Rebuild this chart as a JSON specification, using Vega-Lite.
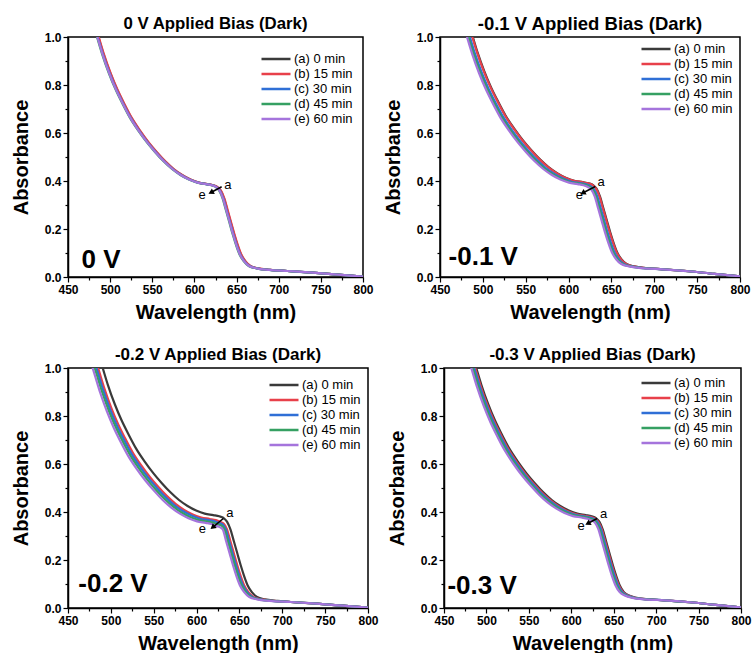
{
"$schema": "https://vega.github.io/schema/vega-lite/v6.json",
"padding": {"left": 10, "top": 13, "right": 2, "bottom": 0},
"datasets": {
"n": [{"s":"a","n":"(a) 0 min"},{"s":"b","n":"(b) 15 min"},{"s":"c","n":"(c) 30 min"},{"s":"d","n":"(d) 45 min"},{"s":"e","n":"(e) 60 min"}],
"t": [{"p":0,"w":639.8,"A":0.384,"t":"a"},{"p":0,"w":609,"A":0.342,"t":"e"},{"p":1,"w":637.9,"A":0.397,"t":"a"},{"p":1,"w":612.6,"A":0.343,"t":"e"},{"p":2,"w":638.7,"A":0.394,"t":"a"},{"p":2,"w":606.8,"A":0.329,"t":"e"},{"p":3,"w":638.2,"A":0.39,"t":"a"},{"p":3,"w":611.5,"A":0.341,"t":"e"}],
"b": [{"p":0,"w":466,"A":0.038,"t":"0 V"},{"p":1,"w":460,"A":0.049,"t":"-0.1 V"},{"p":2,"w":462,"A":0.066,"t":"-0.2 V"},{"p":3,"w":454,"A":0.06,"t":"-0.3 V"}],
"r": [{"p":0,"w":632.3,"A":0.376,"w2":619.6,"A2":0.352},{"p":1,"w":631.2,"A":0.377,"w2":616.5,"A2":0.35},{"p":2,"w":631.2,"A":0.373,"w2":618.8,"A2":0.336},{"p":3,"w":630.4,"A":0.373,"w2":619.4,"A2":0.352}],
"c": [
{"p":0,"s":"a","w":480,"A":1.07},{"p":0,"s":"a","w":486,"A":1.0},{"p":0,"s":"a","w":492,"A":0.93},{"p":0,"s":"a","w":500,"A":0.85},{"p":0,"s":"a","w":508,"A":0.782},{"p":0,"s":"a","w":516,"A":0.724},{"p":0,"s":"a","w":525,"A":0.664},{"p":0,"s":"a","w":535,"A":0.61},{"p":0,"s":"a","w":545,"A":0.562},{"p":0,"s":"a","w":555,"A":0.52},{"p":0,"s":"a","w":565,"A":0.482},{"p":0,"s":"a","w":575,"A":0.45},{"p":0,"s":"a","w":585,"A":0.425},{"p":0,"s":"a","w":595,"A":0.406},{"p":0,"s":"a","w":605,"A":0.393},{"p":0,"s":"a","w":615,"A":0.387},{"p":0,"s":"a","w":622,"A":0.382},{"p":0,"s":"a","w":627,"A":0.375},{"p":0,"s":"a","w":631,"A":0.36},{"p":0,"s":"a","w":635,"A":0.328},{"p":0,"s":"a","w":639,"A":0.278},{"p":0,"s":"a","w":643,"A":0.228},{"p":0,"s":"a","w":647,"A":0.178},{"p":0,"s":"a","w":651,"A":0.133},{"p":0,"s":"a","w":655,"A":0.095},{"p":0,"s":"a","w":660,"A":0.066},{"p":0,"s":"a","w":666,"A":0.046},{"p":0,"s":"a","w":675,"A":0.036},{"p":0,"s":"a","w":690,"A":0.03},{"p":0,"s":"a","w":710,"A":0.025},{"p":0,"s":"a","w":740,"A":0.018},{"p":0,"s":"a","w":770,"A":0.01},{"p":0,"s":"a","w":800,"A":0.002},
{"p":0,"s":"b","w":480.5,"A":1.07},{"p":0,"s":"b","w":486.5,"A":1.0},{"p":0,"s":"b","w":492.5,"A":0.93},{"p":0,"s":"b","w":500.5,"A":0.85},{"p":0,"s":"b","w":508.5,"A":0.782},{"p":0,"s":"b","w":516.5,"A":0.724},{"p":0,"s":"b","w":525.5,"A":0.664},{"p":0,"s":"b","w":535.5,"A":0.61},{"p":0,"s":"b","w":545.5,"A":0.562},{"p":0,"s":"b","w":555.5,"A":0.52},{"p":0,"s":"b","w":565.5,"A":0.482},{"p":0,"s":"b","w":575.5,"A":0.45},{"p":0,"s":"b","w":585.5,"A":0.425},{"p":0,"s":"b","w":595.5,"A":0.406},{"p":0,"s":"b","w":605.5,"A":0.393},{"p":0,"s":"b","w":615.5,"A":0.387},{"p":0,"s":"b","w":622.5,"A":0.382},{"p":0,"s":"b","w":627.5,"A":0.375},{"p":0,"s":"b","w":631.5,"A":0.36},{"p":0,"s":"b","w":635.5,"A":0.328},{"p":0,"s":"b","w":639.5,"A":0.278},{"p":0,"s":"b","w":643.5,"A":0.228},{"p":0,"s":"b","w":647.5,"A":0.178},{"p":0,"s":"b","w":651.5,"A":0.133},{"p":0,"s":"b","w":655.5,"A":0.095},{"p":0,"s":"b","w":660.5,"A":0.066},{"p":0,"s":"b","w":666.5,"A":0.046},{"p":0,"s":"b","w":675.5,"A":0.036},{"p":0,"s":"b","w":690.5,"A":0.03},{"p":0,"s":"b","w":710,"A":0.025},{"p":0,"s":"b","w":740,"A":0.018},{"p":0,"s":"b","w":770,"A":0.01},{"p":0,"s":"b","w":800,"A":0.002},
{"p":0,"s":"c","w":479.2,"A":1.07},{"p":0,"s":"c","w":485.2,"A":1.0},{"p":0,"s":"c","w":491.2,"A":0.93},{"p":0,"s":"c","w":499.2,"A":0.85},{"p":0,"s":"c","w":507.2,"A":0.782},{"p":0,"s":"c","w":515.2,"A":0.724},{"p":0,"s":"c","w":524.2,"A":0.664},{"p":0,"s":"c","w":534.2,"A":0.61},{"p":0,"s":"c","w":544.2,"A":0.562},{"p":0,"s":"c","w":554.2,"A":0.52},{"p":0,"s":"c","w":564.2,"A":0.482},{"p":0,"s":"c","w":574.2,"A":0.45},{"p":0,"s":"c","w":584.2,"A":0.425},{"p":0,"s":"c","w":594.2,"A":0.406},{"p":0,"s":"c","w":604.2,"A":0.393},{"p":0,"s":"c","w":614.2,"A":0.387},{"p":0,"s":"c","w":621.2,"A":0.382},{"p":0,"s":"c","w":626.2,"A":0.375},{"p":0,"s":"c","w":630.2,"A":0.36},{"p":0,"s":"c","w":634.2,"A":0.328},{"p":0,"s":"c","w":638.2,"A":0.278},{"p":0,"s":"c","w":642.2,"A":0.228},{"p":0,"s":"c","w":646.2,"A":0.178},{"p":0,"s":"c","w":650.2,"A":0.133},{"p":0,"s":"c","w":654.2,"A":0.095},{"p":0,"s":"c","w":659.2,"A":0.066},{"p":0,"s":"c","w":665.2,"A":0.046},{"p":0,"s":"c","w":674.2,"A":0.036},{"p":0,"s":"c","w":689.2,"A":0.03},{"p":0,"s":"c","w":710,"A":0.025},{"p":0,"s":"c","w":740,"A":0.018},{"p":0,"s":"c","w":770,"A":0.01},{"p":0,"s":"c","w":800,"A":0.002},
{"p":0,"s":"d","w":478.4,"A":1.07},{"p":0,"s":"d","w":484.4,"A":1.0},{"p":0,"s":"d","w":490.4,"A":0.93},{"p":0,"s":"d","w":498.4,"A":0.85},{"p":0,"s":"d","w":506.4,"A":0.782},{"p":0,"s":"d","w":514.4,"A":0.724},{"p":0,"s":"d","w":523.4,"A":0.664},{"p":0,"s":"d","w":533.4,"A":0.61},{"p":0,"s":"d","w":543.4,"A":0.562},{"p":0,"s":"d","w":553.4,"A":0.52},{"p":0,"s":"d","w":563.4,"A":0.482},{"p":0,"s":"d","w":573.4,"A":0.45},{"p":0,"s":"d","w":583.4,"A":0.425},{"p":0,"s":"d","w":593.4,"A":0.406},{"p":0,"s":"d","w":603.4,"A":0.393},{"p":0,"s":"d","w":613.4,"A":0.387},{"p":0,"s":"d","w":620.4,"A":0.382},{"p":0,"s":"d","w":625.4,"A":0.375},{"p":0,"s":"d","w":629.4,"A":0.36},{"p":0,"s":"d","w":633.4,"A":0.328},{"p":0,"s":"d","w":637.4,"A":0.278},{"p":0,"s":"d","w":641.4,"A":0.228},{"p":0,"s":"d","w":645.4,"A":0.178},{"p":0,"s":"d","w":649.4,"A":0.133},{"p":0,"s":"d","w":653.4,"A":0.095},{"p":0,"s":"d","w":658.4,"A":0.066},{"p":0,"s":"d","w":664.4,"A":0.046},{"p":0,"s":"d","w":673.4,"A":0.036},{"p":0,"s":"d","w":688.4,"A":0.03},{"p":0,"s":"d","w":710,"A":0.025},{"p":0,"s":"d","w":740,"A":0.018},{"p":0,"s":"d","w":770,"A":0.01},{"p":0,"s":"d","w":800,"A":0.002},
{"p":0,"s":"e","w":478.8,"A":1.07},{"p":0,"s":"e","w":484.8,"A":1.0},{"p":0,"s":"e","w":490.8,"A":0.93},{"p":0,"s":"e","w":498.8,"A":0.85},{"p":0,"s":"e","w":506.8,"A":0.782},{"p":0,"s":"e","w":514.8,"A":0.724},{"p":0,"s":"e","w":523.8,"A":0.664},{"p":0,"s":"e","w":533.8,"A":0.61},{"p":0,"s":"e","w":543.8,"A":0.562},{"p":0,"s":"e","w":553.8,"A":0.52},{"p":0,"s":"e","w":563.8,"A":0.482},{"p":0,"s":"e","w":573.8,"A":0.45},{"p":0,"s":"e","w":583.8,"A":0.425},{"p":0,"s":"e","w":593.8,"A":0.406},{"p":0,"s":"e","w":603.8,"A":0.393},{"p":0,"s":"e","w":613.8,"A":0.387},{"p":0,"s":"e","w":620.8,"A":0.382},{"p":0,"s":"e","w":625.8,"A":0.375},{"p":0,"s":"e","w":629.8,"A":0.36},{"p":0,"s":"e","w":633.8,"A":0.328},{"p":0,"s":"e","w":637.8,"A":0.278},{"p":0,"s":"e","w":641.8,"A":0.228},{"p":0,"s":"e","w":645.8,"A":0.178},{"p":0,"s":"e","w":649.8,"A":0.133},{"p":0,"s":"e","w":653.8,"A":0.095},{"p":0,"s":"e","w":658.8,"A":0.066},{"p":0,"s":"e","w":664.8,"A":0.046},{"p":0,"s":"e","w":673.8,"A":0.036},{"p":0,"s":"e","w":688.8,"A":0.03},{"p":0,"s":"e","w":710,"A":0.025},{"p":0,"s":"e","w":740,"A":0.018},{"p":0,"s":"e","w":770,"A":0.01},{"p":0,"s":"e","w":800,"A":0.002},
{"p":1,"s":"a","w":481.6,"A":1.078},{"p":1,"s":"a","w":487.6,"A":1.008},{"p":1,"s":"a","w":493.6,"A":0.938},{"p":1,"s":"a","w":501.6,"A":0.858},{"p":1,"s":"a","w":509.6,"A":0.79},{"p":1,"s":"a","w":517.6,"A":0.732},{"p":1,"s":"a","w":526.6,"A":0.672},{"p":1,"s":"a","w":536.6,"A":0.618},{"p":1,"s":"a","w":546.6,"A":0.57},{"p":1,"s":"a","w":556.6,"A":0.528},{"p":1,"s":"a","w":566.6,"A":0.49},{"p":1,"s":"a","w":576.6,"A":0.458},{"p":1,"s":"a","w":586.6,"A":0.433},{"p":1,"s":"a","w":596.6,"A":0.414},{"p":1,"s":"a","w":606.6,"A":0.401},{"p":1,"s":"a","w":616.6,"A":0.395},{"p":1,"s":"a","w":623.6,"A":0.39},{"p":1,"s":"a","w":628.6,"A":0.383},{"p":1,"s":"a","w":632.6,"A":0.368},{"p":1,"s":"a","w":636.6,"A":0.336},{"p":1,"s":"a","w":640.6,"A":0.286},{"p":1,"s":"a","w":644.6,"A":0.236},{"p":1,"s":"a","w":648.6,"A":0.186},{"p":1,"s":"a","w":652.6,"A":0.141},{"p":1,"s":"a","w":656.6,"A":0.103},{"p":1,"s":"a","w":661.6,"A":0.074},{"p":1,"s":"a","w":667.6,"A":0.054},{"p":1,"s":"a","w":676.6,"A":0.044},{"p":1,"s":"a","w":691.6,"A":0.037},{"p":1,"s":"a","w":710,"A":0.032},{"p":1,"s":"a","w":740,"A":0.024},{"p":1,"s":"a","w":770,"A":0.013},{"p":1,"s":"a","w":800,"A":0.003},
{"p":1,"s":"b","w":481,"A":1.078},{"p":1,"s":"b","w":487,"A":1.008},{"p":1,"s":"b","w":493,"A":0.938},{"p":1,"s":"b","w":501,"A":0.858},{"p":1,"s":"b","w":509,"A":0.79},{"p":1,"s":"b","w":517,"A":0.732},{"p":1,"s":"b","w":526,"A":0.672},{"p":1,"s":"b","w":536,"A":0.618},{"p":1,"s":"b","w":546,"A":0.57},{"p":1,"s":"b","w":556,"A":0.528},{"p":1,"s":"b","w":566,"A":0.49},{"p":1,"s":"b","w":576,"A":0.458},{"p":1,"s":"b","w":586,"A":0.433},{"p":1,"s":"b","w":596,"A":0.414},{"p":1,"s":"b","w":606,"A":0.401},{"p":1,"s":"b","w":616,"A":0.395},{"p":1,"s":"b","w":623,"A":0.39},{"p":1,"s":"b","w":628,"A":0.383},{"p":1,"s":"b","w":632,"A":0.368},{"p":1,"s":"b","w":636,"A":0.336},{"p":1,"s":"b","w":640,"A":0.286},{"p":1,"s":"b","w":644,"A":0.236},{"p":1,"s":"b","w":648,"A":0.186},{"p":1,"s":"b","w":652,"A":0.141},{"p":1,"s":"b","w":656,"A":0.103},{"p":1,"s":"b","w":661,"A":0.074},{"p":1,"s":"b","w":667,"A":0.054},{"p":1,"s":"b","w":676,"A":0.044},{"p":1,"s":"b","w":691,"A":0.037},{"p":1,"s":"b","w":710,"A":0.032},{"p":1,"s":"b","w":740,"A":0.024},{"p":1,"s":"b","w":770,"A":0.013},{"p":1,"s":"b","w":800,"A":0.003},
{"p":1,"s":"c","w":478.5,"A":1.074},{"p":1,"s":"c","w":484.5,"A":1.004},{"p":1,"s":"c","w":490.5,"A":0.934},{"p":1,"s":"c","w":498.5,"A":0.854},{"p":1,"s":"c","w":506.5,"A":0.786},{"p":1,"s":"c","w":514.5,"A":0.728},{"p":1,"s":"c","w":523.5,"A":0.668},{"p":1,"s":"c","w":533.5,"A":0.614},{"p":1,"s":"c","w":543.5,"A":0.566},{"p":1,"s":"c","w":553.5,"A":0.524},{"p":1,"s":"c","w":563.5,"A":0.486},{"p":1,"s":"c","w":573.5,"A":0.454},{"p":1,"s":"c","w":583.5,"A":0.429},{"p":1,"s":"c","w":593.5,"A":0.41},{"p":1,"s":"c","w":603.5,"A":0.397},{"p":1,"s":"c","w":613.5,"A":0.391},{"p":1,"s":"c","w":620.5,"A":0.386},{"p":1,"s":"c","w":625.5,"A":0.379},{"p":1,"s":"c","w":629.5,"A":0.366},{"p":1,"s":"c","w":633.5,"A":0.336},{"p":1,"s":"c","w":637.5,"A":0.286},{"p":1,"s":"c","w":641.5,"A":0.236},{"p":1,"s":"c","w":645.5,"A":0.186},{"p":1,"s":"c","w":649.5,"A":0.141},{"p":1,"s":"c","w":653.5,"A":0.103},{"p":1,"s":"c","w":658.5,"A":0.074},{"p":1,"s":"c","w":664.5,"A":0.054},{"p":1,"s":"c","w":673.5,"A":0.044},{"p":1,"s":"c","w":688.5,"A":0.037},{"p":1,"s":"c","w":710,"A":0.032},{"p":1,"s":"c","w":740,"A":0.024},{"p":1,"s":"c","w":770,"A":0.013},{"p":1,"s":"c","w":800,"A":0.003},
{"p":1,"s":"d","w":477,"A":1.072},{"p":1,"s":"d","w":483,"A":1.002},{"p":1,"s":"d","w":489,"A":0.932},{"p":1,"s":"d","w":497,"A":0.852},{"p":1,"s":"d","w":505,"A":0.784},{"p":1,"s":"d","w":513,"A":0.726},{"p":1,"s":"d","w":522,"A":0.666},{"p":1,"s":"d","w":532,"A":0.612},{"p":1,"s":"d","w":542,"A":0.564},{"p":1,"s":"d","w":552,"A":0.522},{"p":1,"s":"d","w":562,"A":0.484},{"p":1,"s":"d","w":572,"A":0.452},{"p":1,"s":"d","w":582,"A":0.427},{"p":1,"s":"d","w":592,"A":0.408},{"p":1,"s":"d","w":602,"A":0.395},{"p":1,"s":"d","w":612,"A":0.389},{"p":1,"s":"d","w":619,"A":0.384},{"p":1,"s":"d","w":624,"A":0.377},{"p":1,"s":"d","w":628,"A":0.365},{"p":1,"s":"d","w":632,"A":0.336},{"p":1,"s":"d","w":636,"A":0.286},{"p":1,"s":"d","w":640,"A":0.236},{"p":1,"s":"d","w":644,"A":0.186},{"p":1,"s":"d","w":648,"A":0.141},{"p":1,"s":"d","w":652,"A":0.103},{"p":1,"s":"d","w":657,"A":0.074},{"p":1,"s":"d","w":663,"A":0.054},{"p":1,"s":"d","w":672,"A":0.044},{"p":1,"s":"d","w":687,"A":0.037},{"p":1,"s":"d","w":710,"A":0.032},{"p":1,"s":"d","w":740,"A":0.024},{"p":1,"s":"d","w":770,"A":0.013},{"p":1,"s":"d","w":800,"A":0.003},
{"p":1,"s":"e","w":475.5,"A":1.07},{"p":1,"s":"e","w":481.5,"A":1.0},{"p":1,"s":"e","w":487.5,"A":0.93},{"p":1,"s":"e","w":495.5,"A":0.85},{"p":1,"s":"e","w":503.5,"A":0.782},{"p":1,"s":"e","w":511.5,"A":0.724},{"p":1,"s":"e","w":520.5,"A":0.664},{"p":1,"s":"e","w":530.5,"A":0.61},{"p":1,"s":"e","w":540.5,"A":0.562},{"p":1,"s":"e","w":550.5,"A":0.52},{"p":1,"s":"e","w":560.5,"A":0.482},{"p":1,"s":"e","w":570.5,"A":0.45},{"p":1,"s":"e","w":580.5,"A":0.425},{"p":1,"s":"e","w":590.5,"A":0.406},{"p":1,"s":"e","w":600.5,"A":0.393},{"p":1,"s":"e","w":610.5,"A":0.387},{"p":1,"s":"e","w":617.5,"A":0.382},{"p":1,"s":"e","w":622.5,"A":0.375},{"p":1,"s":"e","w":626.5,"A":0.364},{"p":1,"s":"e","w":630.5,"A":0.336},{"p":1,"s":"e","w":634.5,"A":0.286},{"p":1,"s":"e","w":638.5,"A":0.236},{"p":1,"s":"e","w":642.5,"A":0.186},{"p":1,"s":"e","w":646.5,"A":0.141},{"p":1,"s":"e","w":650.5,"A":0.103},{"p":1,"s":"e","w":655.5,"A":0.074},{"p":1,"s":"e","w":661.5,"A":0.054},{"p":1,"s":"e","w":670.5,"A":0.044},{"p":1,"s":"e","w":685.5,"A":0.037},{"p":1,"s":"e","w":710,"A":0.032},{"p":1,"s":"e","w":740,"A":0.024},{"p":1,"s":"e","w":770,"A":0.013},{"p":1,"s":"e","w":800,"A":0.003},
{"p":2,"s":"a","w":484.5,"A":1.07},{"p":2,"s":"a","w":490.5,"A":1.0},{"p":2,"s":"a","w":496.5,"A":0.93},{"p":2,"s":"a","w":504.5,"A":0.85},{"p":2,"s":"a","w":512.5,"A":0.782},{"p":2,"s":"a","w":520.5,"A":0.724},{"p":2,"s":"a","w":529.5,"A":0.664},{"p":2,"s":"a","w":539.5,"A":0.61},{"p":2,"s":"a","w":549.5,"A":0.562},{"p":2,"s":"a","w":559.5,"A":0.52},{"p":2,"s":"a","w":569.5,"A":0.482},{"p":2,"s":"a","w":579.5,"A":0.45},{"p":2,"s":"a","w":589.5,"A":0.425},{"p":2,"s":"a","w":599.5,"A":0.406},{"p":2,"s":"a","w":609.5,"A":0.393},{"p":2,"s":"a","w":619.5,"A":0.387},{"p":2,"s":"a","w":626.5,"A":0.382},{"p":2,"s":"a","w":631.5,"A":0.375},{"p":2,"s":"a","w":635.5,"A":0.36},{"p":2,"s":"a","w":639.5,"A":0.328},{"p":2,"s":"a","w":643.5,"A":0.278},{"p":2,"s":"a","w":647.5,"A":0.228},{"p":2,"s":"a","w":651.5,"A":0.178},{"p":2,"s":"a","w":655.5,"A":0.133},{"p":2,"s":"a","w":659.5,"A":0.095},{"p":2,"s":"a","w":664.5,"A":0.066},{"p":2,"s":"a","w":670.5,"A":0.046},{"p":2,"s":"a","w":679.5,"A":0.036},{"p":2,"s":"a","w":694.5,"A":0.03},{"p":2,"s":"a","w":710,"A":0.025},{"p":2,"s":"a","w":740,"A":0.018},{"p":2,"s":"a","w":770,"A":0.01},{"p":2,"s":"a","w":800,"A":0.002},
{"p":2,"s":"b","w":480.5,"A":1.054},{"p":2,"s":"b","w":486.5,"A":0.984},{"p":2,"s":"b","w":492.5,"A":0.914},{"p":2,"s":"b","w":500.5,"A":0.834},{"p":2,"s":"b","w":508.5,"A":0.766},{"p":2,"s":"b","w":516.5,"A":0.708},{"p":2,"s":"b","w":525.5,"A":0.648},{"p":2,"s":"b","w":535.5,"A":0.594},{"p":2,"s":"b","w":545.5,"A":0.546},{"p":2,"s":"b","w":555.5,"A":0.504},{"p":2,"s":"b","w":565.5,"A":0.466},{"p":2,"s":"b","w":575.5,"A":0.434},{"p":2,"s":"b","w":585.5,"A":0.409},{"p":2,"s":"b","w":595.5,"A":0.39},{"p":2,"s":"b","w":605.5,"A":0.377},{"p":2,"s":"b","w":615.5,"A":0.371},{"p":2,"s":"b","w":622.5,"A":0.366},{"p":2,"s":"b","w":627.5,"A":0.359},{"p":2,"s":"b","w":631.5,"A":0.352},{"p":2,"s":"b","w":635.5,"A":0.328},{"p":2,"s":"b","w":639.5,"A":0.278},{"p":2,"s":"b","w":643.5,"A":0.228},{"p":2,"s":"b","w":647.5,"A":0.178},{"p":2,"s":"b","w":651.5,"A":0.133},{"p":2,"s":"b","w":655.5,"A":0.095},{"p":2,"s":"b","w":660.5,"A":0.066},{"p":2,"s":"b","w":666.5,"A":0.046},{"p":2,"s":"b","w":675.5,"A":0.036},{"p":2,"s":"b","w":690.5,"A":0.03},{"p":2,"s":"b","w":710,"A":0.025},{"p":2,"s":"b","w":740,"A":0.018},{"p":2,"s":"b","w":770,"A":0.01},{"p":2,"s":"b","w":800,"A":0.002},
{"p":2,"s":"c","w":479,"A":1.049},{"p":2,"s":"c","w":485,"A":0.979},{"p":2,"s":"c","w":491,"A":0.909},{"p":2,"s":"c","w":499,"A":0.829},{"p":2,"s":"c","w":507,"A":0.761},{"p":2,"s":"c","w":515,"A":0.703},{"p":2,"s":"c","w":524,"A":0.643},{"p":2,"s":"c","w":534,"A":0.589},{"p":2,"s":"c","w":544,"A":0.541},{"p":2,"s":"c","w":554,"A":0.499},{"p":2,"s":"c","w":564,"A":0.461},{"p":2,"s":"c","w":574,"A":0.429},{"p":2,"s":"c","w":584,"A":0.404},{"p":2,"s":"c","w":594,"A":0.385},{"p":2,"s":"c","w":604,"A":0.372},{"p":2,"s":"c","w":614,"A":0.366},{"p":2,"s":"c","w":621,"A":0.361},{"p":2,"s":"c","w":626,"A":0.354},{"p":2,"s":"c","w":630,"A":0.349},{"p":2,"s":"c","w":634,"A":0.328},{"p":2,"s":"c","w":638,"A":0.278},{"p":2,"s":"c","w":642,"A":0.228},{"p":2,"s":"c","w":646,"A":0.178},{"p":2,"s":"c","w":650,"A":0.133},{"p":2,"s":"c","w":654,"A":0.095},{"p":2,"s":"c","w":659,"A":0.066},{"p":2,"s":"c","w":665,"A":0.046},{"p":2,"s":"c","w":674,"A":0.036},{"p":2,"s":"c","w":689,"A":0.03},{"p":2,"s":"c","w":710,"A":0.025},{"p":2,"s":"c","w":740,"A":0.018},{"p":2,"s":"c","w":770,"A":0.01},{"p":2,"s":"c","w":800,"A":0.002},
{"p":2,"s":"d","w":477.5,"A":1.043},{"p":2,"s":"d","w":483.5,"A":0.973},{"p":2,"s":"d","w":489.5,"A":0.903},{"p":2,"s":"d","w":497.5,"A":0.823},{"p":2,"s":"d","w":505.5,"A":0.755},{"p":2,"s":"d","w":513.5,"A":0.697},{"p":2,"s":"d","w":522.5,"A":0.637},{"p":2,"s":"d","w":532.5,"A":0.583},{"p":2,"s":"d","w":542.5,"A":0.535},{"p":2,"s":"d","w":552.5,"A":0.493},{"p":2,"s":"d","w":562.5,"A":0.455},{"p":2,"s":"d","w":572.5,"A":0.423},{"p":2,"s":"d","w":582.5,"A":0.398},{"p":2,"s":"d","w":592.5,"A":0.379},{"p":2,"s":"d","w":602.5,"A":0.366},{"p":2,"s":"d","w":612.5,"A":0.36},{"p":2,"s":"d","w":619.5,"A":0.355},{"p":2,"s":"d","w":624.5,"A":0.348},{"p":2,"s":"d","w":628.5,"A":0.345},{"p":2,"s":"d","w":632.5,"A":0.328},{"p":2,"s":"d","w":636.5,"A":0.278},{"p":2,"s":"d","w":640.5,"A":0.228},{"p":2,"s":"d","w":644.5,"A":0.178},{"p":2,"s":"d","w":648.5,"A":0.133},{"p":2,"s":"d","w":652.5,"A":0.095},{"p":2,"s":"d","w":657.5,"A":0.066},{"p":2,"s":"d","w":663.5,"A":0.046},{"p":2,"s":"d","w":672.5,"A":0.036},{"p":2,"s":"d","w":687.5,"A":0.03},{"p":2,"s":"d","w":710,"A":0.025},{"p":2,"s":"d","w":740,"A":0.018},{"p":2,"s":"d","w":770,"A":0.01},{"p":2,"s":"d","w":800,"A":0.002},
{"p":2,"s":"e","w":475.5,"A":1.038},{"p":2,"s":"e","w":481.5,"A":0.968},{"p":2,"s":"e","w":487.5,"A":0.898},{"p":2,"s":"e","w":495.5,"A":0.818},{"p":2,"s":"e","w":503.5,"A":0.75},{"p":2,"s":"e","w":511.5,"A":0.692},{"p":2,"s":"e","w":520.5,"A":0.632},{"p":2,"s":"e","w":530.5,"A":0.578},{"p":2,"s":"e","w":540.5,"A":0.53},{"p":2,"s":"e","w":550.5,"A":0.488},{"p":2,"s":"e","w":560.5,"A":0.45},{"p":2,"s":"e","w":570.5,"A":0.418},{"p":2,"s":"e","w":580.5,"A":0.393},{"p":2,"s":"e","w":590.5,"A":0.374},{"p":2,"s":"e","w":600.5,"A":0.361},{"p":2,"s":"e","w":610.5,"A":0.355},{"p":2,"s":"e","w":617.5,"A":0.35},{"p":2,"s":"e","w":622.5,"A":0.343},{"p":2,"s":"e","w":626.5,"A":0.338},{"p":2,"s":"e","w":630.5,"A":0.328},{"p":2,"s":"e","w":634.5,"A":0.278},{"p":2,"s":"e","w":638.5,"A":0.228},{"p":2,"s":"e","w":642.5,"A":0.178},{"p":2,"s":"e","w":646.5,"A":0.133},{"p":2,"s":"e","w":650.5,"A":0.095},{"p":2,"s":"e","w":655.5,"A":0.066},{"p":2,"s":"e","w":661.5,"A":0.046},{"p":2,"s":"e","w":670.5,"A":0.036},{"p":2,"s":"e","w":685.5,"A":0.03},{"p":2,"s":"e","w":710,"A":0.025},{"p":2,"s":"e","w":740,"A":0.018},{"p":2,"s":"e","w":770,"A":0.01},{"p":2,"s":"e","w":800,"A":0.002},
{"p":3,"s":"a","w":482,"A":1.07},{"p":3,"s":"a","w":488,"A":1.0},{"p":3,"s":"a","w":494,"A":0.93},{"p":3,"s":"a","w":502,"A":0.85},{"p":3,"s":"a","w":510,"A":0.782},{"p":3,"s":"a","w":518,"A":0.724},{"p":3,"s":"a","w":527,"A":0.664},{"p":3,"s":"a","w":537,"A":0.61},{"p":3,"s":"a","w":547,"A":0.562},{"p":3,"s":"a","w":557,"A":0.52},{"p":3,"s":"a","w":567,"A":0.482},{"p":3,"s":"a","w":577,"A":0.45},{"p":3,"s":"a","w":587,"A":0.425},{"p":3,"s":"a","w":597,"A":0.406},{"p":3,"s":"a","w":607,"A":0.393},{"p":3,"s":"a","w":617,"A":0.387},{"p":3,"s":"a","w":624,"A":0.382},{"p":3,"s":"a","w":629,"A":0.375},{"p":3,"s":"a","w":633,"A":0.36},{"p":3,"s":"a","w":637,"A":0.328},{"p":3,"s":"a","w":641,"A":0.278},{"p":3,"s":"a","w":645,"A":0.228},{"p":3,"s":"a","w":649,"A":0.178},{"p":3,"s":"a","w":653,"A":0.133},{"p":3,"s":"a","w":657,"A":0.095},{"p":3,"s":"a","w":662,"A":0.066},{"p":3,"s":"a","w":668,"A":0.052},{"p":3,"s":"a","w":677,"A":0.042},{"p":3,"s":"a","w":692,"A":0.036},{"p":3,"s":"a","w":710,"A":0.032},{"p":3,"s":"a","w":740,"A":0.024},{"p":3,"s":"a","w":770,"A":0.013},{"p":3,"s":"a","w":800,"A":0.003},
{"p":3,"s":"b","w":481,"A":1.067},{"p":3,"s":"b","w":487,"A":0.997},{"p":3,"s":"b","w":493,"A":0.927},{"p":3,"s":"b","w":501,"A":0.847},{"p":3,"s":"b","w":509,"A":0.779},{"p":3,"s":"b","w":517,"A":0.721},{"p":3,"s":"b","w":526,"A":0.661},{"p":3,"s":"b","w":536,"A":0.607},{"p":3,"s":"b","w":546,"A":0.559},{"p":3,"s":"b","w":556,"A":0.517},{"p":3,"s":"b","w":566,"A":0.479},{"p":3,"s":"b","w":576,"A":0.447},{"p":3,"s":"b","w":586,"A":0.422},{"p":3,"s":"b","w":596,"A":0.403},{"p":3,"s":"b","w":606,"A":0.39},{"p":3,"s":"b","w":616,"A":0.384},{"p":3,"s":"b","w":623,"A":0.379},{"p":3,"s":"b","w":628,"A":0.372},{"p":3,"s":"b","w":632,"A":0.358},{"p":3,"s":"b","w":636,"A":0.328},{"p":3,"s":"b","w":640,"A":0.278},{"p":3,"s":"b","w":644,"A":0.228},{"p":3,"s":"b","w":648,"A":0.178},{"p":3,"s":"b","w":652,"A":0.133},{"p":3,"s":"b","w":656,"A":0.095},{"p":3,"s":"b","w":661,"A":0.066},{"p":3,"s":"b","w":667,"A":0.052},{"p":3,"s":"b","w":676,"A":0.042},{"p":3,"s":"b","w":691,"A":0.036},{"p":3,"s":"b","w":710,"A":0.032},{"p":3,"s":"b","w":740,"A":0.024},{"p":3,"s":"b","w":770,"A":0.013},{"p":3,"s":"b","w":800,"A":0.003},
{"p":3,"s":"c","w":480,"A":1.065},{"p":3,"s":"c","w":486,"A":0.995},{"p":3,"s":"c","w":492,"A":0.925},{"p":3,"s":"c","w":500,"A":0.845},{"p":3,"s":"c","w":508,"A":0.777},{"p":3,"s":"c","w":516,"A":0.719},{"p":3,"s":"c","w":525,"A":0.659},{"p":3,"s":"c","w":535,"A":0.605},{"p":3,"s":"c","w":545,"A":0.557},{"p":3,"s":"c","w":555,"A":0.515},{"p":3,"s":"c","w":565,"A":0.477},{"p":3,"s":"c","w":575,"A":0.445},{"p":3,"s":"c","w":585,"A":0.42},{"p":3,"s":"c","w":595,"A":0.401},{"p":3,"s":"c","w":605,"A":0.388},{"p":3,"s":"c","w":615,"A":0.382},{"p":3,"s":"c","w":622,"A":0.377},{"p":3,"s":"c","w":627,"A":0.37},{"p":3,"s":"c","w":631,"A":0.357},{"p":3,"s":"c","w":635,"A":0.328},{"p":3,"s":"c","w":639,"A":0.278},{"p":3,"s":"c","w":643,"A":0.228},{"p":3,"s":"c","w":647,"A":0.178},{"p":3,"s":"c","w":651,"A":0.133},{"p":3,"s":"c","w":655,"A":0.095},{"p":3,"s":"c","w":660,"A":0.066},{"p":3,"s":"c","w":666,"A":0.052},{"p":3,"s":"c","w":675,"A":0.042},{"p":3,"s":"c","w":690,"A":0.036},{"p":3,"s":"c","w":710,"A":0.032},{"p":3,"s":"c","w":740,"A":0.024},{"p":3,"s":"c","w":770,"A":0.013},{"p":3,"s":"c","w":800,"A":0.003},
{"p":3,"s":"d","w":478.5,"A":1.063},{"p":3,"s":"d","w":484.5,"A":0.993},{"p":3,"s":"d","w":490.5,"A":0.923},{"p":3,"s":"d","w":498.5,"A":0.843},{"p":3,"s":"d","w":506.5,"A":0.775},{"p":3,"s":"d","w":514.5,"A":0.717},{"p":3,"s":"d","w":523.5,"A":0.657},{"p":3,"s":"d","w":533.5,"A":0.603},{"p":3,"s":"d","w":543.5,"A":0.555},{"p":3,"s":"d","w":553.5,"A":0.513},{"p":3,"s":"d","w":563.5,"A":0.475},{"p":3,"s":"d","w":573.5,"A":0.443},{"p":3,"s":"d","w":583.5,"A":0.418},{"p":3,"s":"d","w":593.5,"A":0.399},{"p":3,"s":"d","w":603.5,"A":0.386},{"p":3,"s":"d","w":613.5,"A":0.38},{"p":3,"s":"d","w":620.5,"A":0.375},{"p":3,"s":"d","w":625.5,"A":0.368},{"p":3,"s":"d","w":629.5,"A":0.356},{"p":3,"s":"d","w":633.5,"A":0.328},{"p":3,"s":"d","w":637.5,"A":0.278},{"p":3,"s":"d","w":641.5,"A":0.228},{"p":3,"s":"d","w":645.5,"A":0.178},{"p":3,"s":"d","w":649.5,"A":0.133},{"p":3,"s":"d","w":653.5,"A":0.095},{"p":3,"s":"d","w":658.5,"A":0.066},{"p":3,"s":"d","w":664.5,"A":0.052},{"p":3,"s":"d","w":673.5,"A":0.042},{"p":3,"s":"d","w":688.5,"A":0.036},{"p":3,"s":"d","w":710,"A":0.032},{"p":3,"s":"d","w":740,"A":0.024},{"p":3,"s":"d","w":770,"A":0.013},{"p":3,"s":"d","w":800,"A":0.003},
{"p":3,"s":"e","w":477,"A":1.06},{"p":3,"s":"e","w":483,"A":0.99},{"p":3,"s":"e","w":489,"A":0.92},{"p":3,"s":"e","w":497,"A":0.84},{"p":3,"s":"e","w":505,"A":0.772},{"p":3,"s":"e","w":513,"A":0.714},{"p":3,"s":"e","w":522,"A":0.654},{"p":3,"s":"e","w":532,"A":0.6},{"p":3,"s":"e","w":542,"A":0.552},{"p":3,"s":"e","w":552,"A":0.51},{"p":3,"s":"e","w":562,"A":0.472},{"p":3,"s":"e","w":572,"A":0.44},{"p":3,"s":"e","w":582,"A":0.415},{"p":3,"s":"e","w":592,"A":0.396},{"p":3,"s":"e","w":602,"A":0.383},{"p":3,"s":"e","w":612,"A":0.377},{"p":3,"s":"e","w":619,"A":0.372},{"p":3,"s":"e","w":624,"A":0.365},{"p":3,"s":"e","w":628,"A":0.355},{"p":3,"s":"e","w":632,"A":0.328},{"p":3,"s":"e","w":636,"A":0.278},{"p":3,"s":"e","w":640,"A":0.228},{"p":3,"s":"e","w":644,"A":0.178},{"p":3,"s":"e","w":648,"A":0.133},{"p":3,"s":"e","w":652,"A":0.095},{"p":3,"s":"e","w":657,"A":0.066},{"p":3,"s":"e","w":663,"A":0.052},{"p":3,"s":"e","w":672,"A":0.042},{"p":3,"s":"e","w":687,"A":0.036},{"p":3,"s":"e","w":710,"A":0.032},{"p":3,"s":"e","w":740,"A":0.024},{"p":3,"s":"e","w":770,"A":0.013},{"p":3,"s":"e","w":800,"A":0.003}
]
},
"spacing": 22,
"resolve": {"scale": {"color": "independent"}, "legend": {"color": "independent"}},
"vconcat": [
{"hconcat": [
{"width": 295, "height": 240, "title": {"text": "0 V Applied Bias (Dark)", "fontSize": 16.8},
 "encoding": {
  "x": {"field": "w", "type": "quantitative", "scale": {"domain": [450, 800], "nice": false}, "axis": {"title": "Wavelength (nm)", "values": [450,475,500,525,550,575,600,625,650,675,700,725,750,775,800], "labelExpr": "datum.value % 50 === 0 ? datum.label : ''", "tickSize": {"condition": {"test": "datum.value % 50 === 0", "value": 5}, "value": 3}, "labelOverlap": false, "labelFlush": false, "format": "d"}},
  "y": {"field": "A", "type": "quantitative", "scale": {"domain": [0, 1], "nice": false}, "axis": {"title": "Absorbance", "values": [0,0.1,0.2,0.3,0.4,0.5,0.6,0.7,0.8,0.9,1.0], "format": ".1f", "labelExpr": "round(datum.value*10) % 2 === 0 ? datum.label : ''", "tickSize": {"condition": {"test": "round(datum.value*10) % 2 === 0", "value": 5}, "value": 3}, "labelOverlap": false, "labelFlush": false}}
 },
 "layer": [
  {"data": {"name": "c"}, "transform": [{"filter": "datum.p==0"}, {"lookup": "s", "from": {"data": {"name": "n"}, "key": "s", "fields": ["n"]}}],
   "mark": {"type": "line", "clip": true, "interpolate": "monotone", "strokeWidth": 2.2},
   "encoding": {
    "color": {"field": "n", "type": "nominal", "scale": {"domain": ["(a) 0 min","(b) 15 min","(c) 30 min","(d) 45 min","(e) 60 min"], "range": ["#3a3a3a","#e8404a","#2f6fd6","#35a062","#a574dc"]}, "legend": {"orient": "none", "legendX": 192, "legendY": 14.5}}
   }},
  {"data": {"name": "t"}, "transform": [{"filter": "datum.p==0"}], "mark": {"type": "text", "fontSize": 13, "font": "Liberation Sans", "color": "black"},
   "encoding": {"text": {"field": "t"}}},
  {"data": {"name": "b"}, "transform": [{"filter": "datum.p==0"}], "mark": {"type": "text", "fontSize": 26, "fontWeight": "bold", "font": "Liberation Sans", "align": "left", "baseline": "alphabetic", "color": "black"},
   "encoding": {"text": {"field": "t"}}},
  {"data": {"name": "r"}, "transform": [{"filter": "datum.p==0"}], "mark": {"type": "rule", "strokeWidth": 1.5, "color": "black"},
   "encoding": {"x2": {"field": "w2"}, "y2": {"field": "A2"}}},
  {"data": {"name": "r"}, "transform": [{"filter": "datum.p==0"}], "mark": {"type": "point", "shape": "triangle-left", "filled": true, "size": 40, "color": "black", "opacity": 1, "angle": 332},
   "encoding": {"x": {"field": "w2", "type": "quantitative"}, "y": {"field": "A2", "type": "quantitative"}}}
 ]},
{"width": 300, "height": 240, "title": {"text": "-0.1 V Applied Bias (Dark)", "fontSize": 18.5},
 "encoding": {
  "x": {"field": "w", "type": "quantitative", "scale": {"domain": [450, 800], "nice": false}, "axis": {"title": "Wavelength (nm)", "values": [450,475,500,525,550,575,600,625,650,675,700,725,750,775,800], "labelExpr": "datum.value % 50 === 0 ? datum.label : ''", "tickSize": {"condition": {"test": "datum.value % 50 === 0", "value": 5}, "value": 3}, "labelOverlap": false, "labelFlush": false, "format": "d"}},
  "y": {"field": "A", "type": "quantitative", "scale": {"domain": [0, 1], "nice": false}, "axis": {"title": "Absorbance", "values": [0,0.1,0.2,0.3,0.4,0.5,0.6,0.7,0.8,0.9,1.0], "format": ".1f", "labelExpr": "round(datum.value*10) % 2 === 0 ? datum.label : ''", "tickSize": {"condition": {"test": "round(datum.value*10) % 2 === 0", "value": 5}, "value": 3}, "labelOverlap": false, "labelFlush": false}}
 },
 "layer": [
  {"data": {"name": "c"}, "transform": [{"filter": "datum.p==1"}, {"lookup": "s", "from": {"data": {"name": "n"}, "key": "s", "fields": ["n"]}}],
   "mark": {"type": "line", "clip": true, "interpolate": "monotone", "strokeWidth": 2.2},
   "encoding": {
    "color": {"field": "n", "type": "nominal", "scale": {"domain": ["(a) 0 min","(b) 15 min","(c) 30 min","(d) 45 min","(e) 60 min"], "range": ["#3a3a3a","#e8404a","#2f6fd6","#35a062","#a574dc"]}, "legend": {"orient": "none", "legendX": 200, "legendY": 4.5}}
   }},
  {"data": {"name": "t"}, "transform": [{"filter": "datum.p==1"}], "mark": {"type": "text", "fontSize": 13, "font": "Liberation Sans", "color": "black"},
   "encoding": {"text": {"field": "t"}}},
  {"data": {"name": "b"}, "transform": [{"filter": "datum.p==1"}], "mark": {"type": "text", "fontSize": 26, "fontWeight": "bold", "font": "Liberation Sans", "align": "left", "baseline": "alphabetic", "color": "black"},
   "encoding": {"text": {"field": "t"}}},
  {"data": {"name": "r"}, "transform": [{"filter": "datum.p==1"}], "mark": {"type": "rule", "strokeWidth": 1.5, "color": "black"},
   "encoding": {"x2": {"field": "w2"}, "y2": {"field": "A2"}}},
  {"data": {"name": "r"}, "transform": [{"filter": "datum.p==1"}], "mark": {"type": "point", "shape": "triangle-left", "filled": true, "size": 40, "color": "black", "opacity": 1, "angle": 332},
   "encoding": {"x": {"field": "w2", "type": "quantitative"}, "y": {"field": "A2", "type": "quantitative"}}}
 ]}
], "spacing": 8, "resolve": {"scale": {"color": "independent"}, "legend": {"color": "independent"}}},
{"hconcat": [
{"width": 300, "height": 240, "title": {"text": "-0.2 V Applied Bias (Dark)", "fontSize": 17},
 "encoding": {
  "x": {"field": "w", "type": "quantitative", "scale": {"domain": [450, 800], "nice": false}, "axis": {"title": "Wavelength (nm)", "values": [450,475,500,525,550,575,600,625,650,675,700,725,750,775,800], "labelExpr": "datum.value % 50 === 0 ? datum.label : ''", "tickSize": {"condition": {"test": "datum.value % 50 === 0", "value": 5}, "value": 3}, "labelOverlap": false, "labelFlush": false, "format": "d"}},
  "y": {"field": "A", "type": "quantitative", "scale": {"domain": [0, 1], "nice": false}, "axis": {"title": "Absorbance", "values": [0,0.1,0.2,0.3,0.4,0.5,0.6,0.7,0.8,0.9,1.0], "format": ".1f", "labelExpr": "round(datum.value*10) % 2 === 0 ? datum.label : ''", "tickSize": {"condition": {"test": "round(datum.value*10) % 2 === 0", "value": 5}, "value": 3}, "labelOverlap": false, "labelFlush": false}}
 },
 "layer": [
  {"data": {"name": "c"}, "transform": [{"filter": "datum.p==2"}, {"lookup": "s", "from": {"data": {"name": "n"}, "key": "s", "fields": ["n"]}}],
   "mark": {"type": "line", "clip": true, "interpolate": "monotone", "strokeWidth": 2.2},
   "encoding": {
    "color": {"field": "n", "type": "nominal", "scale": {"domain": ["(a) 0 min","(b) 15 min","(c) 30 min","(d) 45 min","(e) 60 min"], "range": ["#3a3a3a","#e8404a","#2f6fd6","#35a062","#a574dc"]}, "legend": {"orient": "none", "legendX": 200, "legendY": 9.5}}
   }},
  {"data": {"name": "t"}, "transform": [{"filter": "datum.p==2"}], "mark": {"type": "text", "fontSize": 13, "font": "Liberation Sans", "color": "black"},
   "encoding": {"text": {"field": "t"}}},
  {"data": {"name": "b"}, "transform": [{"filter": "datum.p==2"}], "mark": {"type": "text", "fontSize": 26, "fontWeight": "bold", "font": "Liberation Sans", "align": "left", "baseline": "alphabetic", "color": "black"},
   "encoding": {"text": {"field": "t"}}},
  {"data": {"name": "r"}, "transform": [{"filter": "datum.p==2"}], "mark": {"type": "rule", "strokeWidth": 1.5, "color": "black"},
   "encoding": {"x2": {"field": "w2"}, "y2": {"field": "A2"}}},
  {"data": {"name": "r"}, "transform": [{"filter": "datum.p==2"}], "mark": {"type": "point", "shape": "triangle-left", "filled": true, "size": 40, "color": "black", "opacity": 1, "angle": 320},
   "encoding": {"x": {"field": "w2", "type": "quantitative"}, "y": {"field": "A2", "type": "quantitative"}}}
 ]},
{"width": 297, "height": 240, "title": {"text": "-0.3 V Applied Bias (Dark)", "fontSize": 17},
 "encoding": {
  "x": {"field": "w", "type": "quantitative", "scale": {"domain": [450, 800], "nice": false}, "axis": {"title": "Wavelength (nm)", "values": [450,475,500,525,550,575,600,625,650,675,700,725,750,775,800], "labelExpr": "datum.value % 50 === 0 ? datum.label : ''", "tickSize": {"condition": {"test": "datum.value % 50 === 0", "value": 5}, "value": 3}, "labelOverlap": false, "labelFlush": false, "format": "d"}},
  "y": {"field": "A", "type": "quantitative", "scale": {"domain": [0, 1], "nice": false}, "axis": {"title": "Absorbance", "values": [0,0.1,0.2,0.3,0.4,0.5,0.6,0.7,0.8,0.9,1.0], "format": ".1f", "labelExpr": "round(datum.value*10) % 2 === 0 ? datum.label : ''", "tickSize": {"condition": {"test": "round(datum.value*10) % 2 === 0", "value": 5}, "value": 3}, "labelOverlap": false, "labelFlush": false}}
 },
 "layer": [
  {"data": {"name": "c"}, "transform": [{"filter": "datum.p==3"}, {"lookup": "s", "from": {"data": {"name": "n"}, "key": "s", "fields": ["n"]}}],
   "mark": {"type": "line", "clip": true, "interpolate": "monotone", "strokeWidth": 2.2},
   "encoding": {
    "color": {"field": "n", "type": "nominal", "scale": {"domain": ["(a) 0 min","(b) 15 min","(c) 30 min","(d) 45 min","(e) 60 min"], "range": ["#3a3a3a","#e8404a","#2f6fd6","#35a062","#a574dc"]}, "legend": {"orient": "none", "legendX": 196, "legendY": 7.5}}
   }},
  {"data": {"name": "t"}, "transform": [{"filter": "datum.p==3"}], "mark": {"type": "text", "fontSize": 13, "font": "Liberation Sans", "color": "black"},
   "encoding": {"text": {"field": "t"}}},
  {"data": {"name": "b"}, "transform": [{"filter": "datum.p==3"}], "mark": {"type": "text", "fontSize": 26, "fontWeight": "bold", "font": "Liberation Sans", "align": "left", "baseline": "alphabetic", "color": "black"},
   "encoding": {"text": {"field": "t"}}},
  {"data": {"name": "r"}, "transform": [{"filter": "datum.p==3"}], "mark": {"type": "rule", "strokeWidth": 1.5, "color": "black"},
   "encoding": {"x2": {"field": "w2"}, "y2": {"field": "A2"}}},
  {"data": {"name": "r"}, "transform": [{"filter": "datum.p==3"}], "mark": {"type": "point", "shape": "triangle-left", "filled": true, "size": 40, "color": "black", "opacity": 1, "angle": 332},
   "encoding": {"x": {"field": "w2", "type": "quantitative"}, "y": {"field": "A2", "type": "quantitative"}}}
 ]}
], "spacing": 7, "resolve": {"scale": {"color": "independent"}, "legend": {"color": "independent"}}}
],
"config": {
 "font": "Liberation Sans",
 "view": {"stroke": "black", "strokeWidth": 1.5},
 "axis": {"domainColor": "black", "domainWidth": 1.5, "tickColor": "black", "tickWidth": 1.2, "labelFont": "Liberation Sans", "labelFontSize": 12, "labelFontWeight": "bold", "labelColor": "black", "labelPadding": 2, "titleFont": "Liberation Sans", "titleFontSize": 20, "titleFontWeight": "bold", "titleColor": "black", "grid": false},
 "axisY": {"titlePadding": 13},
 "axisX": {"titlePadding": 7},
 "title": {"font": "Liberation Sans", "fontWeight": "bold", "color": "black", "frame": "group", "anchor": "middle", "offset": -2},
 "legend": {"title": null, "symbolType": "stroke", "symbolSize": 841, "symbolStrokeWidth": 2.5, "labelFont": "Liberation Sans", "labelFontSize": 13, "labelColor": "black", "rowPadding": 0, "clipHeight": 15, "labelOffset": 2, "padding": 0, "symbolOffset": 0}
}
}
